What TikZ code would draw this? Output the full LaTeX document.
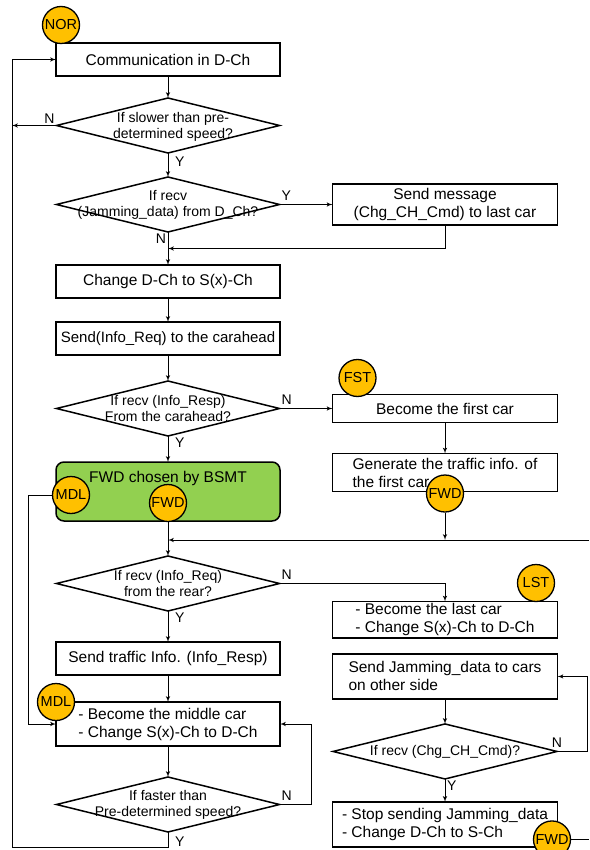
\documentclass[tikz,border=0pt]{standalone}
\usepackage{fontspec}
\setmainfont{Liberation Sans}
\usetikzlibrary{arrows,shapes.geometric,positioning,calc}
\definecolor{tagorange}{HTML}{FFC000}
\definecolor{bsmtgreen}{HTML}{92D050}

\begin{document}
\begin{tikzpicture}[x=1pt,y=1pt,->,>=latex',line width=1pt]
  \tikzstyle{box}=[draw,line width=1.5pt,outer sep=0pt,minimum width=224pt,minimum height=33pt,inner sep=2pt,align=center,font=\fontsize{15.5}{18}\selectfont]
  \tikzstyle{decision}=[draw,diamond,line width=1.5pt,outer sep=0pt,minimum width=223pt,minimum height=55pt,inner sep=0pt]
  \tikzstyle{dtext}=[align=center,inner sep=0pt,font=\fontsize{14}{16}\selectfont]
  \tikzstyle{tag}=[draw,circle,fill=tagorange,line width=1.3pt,minimum size=37pt,inner sep=0pt,font=\fontsize{14.5}{15}\selectfont]
  \tikzstyle{yn}=[inner sep=1.5pt,font=\fontsize{14}{14}\selectfont]

  \useasboundingbox (0,0) rectangle (589,-850);

  \node[box]      (comm)     at (168,-59.5) {Communication in D-Ch};
  \node[decision] (d1)       [below=22pt of comm,label={[dtext,xshift=5pt,yshift=-1pt]center:If slower than pre-\\determined speed?}] {};
  \node[decision] (d2)       [below=24pt of d1,label={[dtext]center:If recv\\(Jamming\_data) from D\_Ch?}] {};
  \node[box]      (change)   [below=33pt of d2] {Change D-Ch to S(x)-Ch};
  \node[box,font=\fontsize{15}{18}\selectfont] (sendreq) [below=24pt of change] {Send(Info\_Req) to the carahead};
  \node[decision] (d3)       [below=26pt of sendreq,label={[dtext]center:If recv (Info\_Resp)\\From the carahead?}] {};
  \node[box,fill=bsmtgreen,rounded corners=8pt,minimum height=59pt] (green) [below=26pt of d3] {};
  \node[inner sep=0pt,font=\fontsize{15.5}{18}\selectfont] (bsmt) [below=9pt of green.north] {FWD chosen by BSMT};
  \node[decision] (d4)       [below=35pt of green,label={[dtext]center:If recv (Info\_Req)\\from the rear?}] {};
  \node[box]      (sendinfo) [below=31pt of d4] {Send traffic Info. (Info\_Resp)};
  \node[box,minimum height=44pt,align=left] (middle) [below=27pt of sendinfo] {- Become the middle car\\- Change S(x)-Ch to D-Ch};
  \node[decision] (d5)       [below=31pt of middle,label={[dtext]center:If faster than\\Pre-determined speed?}] {};

  \node[box,minimum width=225pt,minimum height=41pt] (sendmsg) [right=53pt of d2] {Send message\\(Chg\_CH\_Cmd) to last car};
  \node[box,minimum width=225pt,minimum height=28pt] (first) [right=53pt of d3] {Become the first car};
  \node[box,minimum width=225pt,minimum height=38pt,align=left] (generate) [below=31pt of first] {Generate the traffic info. of\\the first car};
  \node[box,minimum width=225pt,minimum height=36pt,align=left] (last) [below=110pt of generate] {- Become the last car\\- Change S(x)-Ch to D-Ch};
  \node[box,minimum width=225pt,minimum height=45pt,align=left] (sendjam) [below=16pt of last] {Send Jamming\_data to cars\\on other side};
  \node[decision,minimum width=224pt] (d6) [below=25pt of sendjam,label={[dtext]center:If recv (Chg\_CH\_Cmd)?}] {};
  \node[box,minimum width=225pt,minimum height=45pt,align=left] (stop) [below=23pt of d6] {- Stop sending Jamming\_data\\- Change D-Ch to S-Ch};

  \node[tag] (nor)  at ([shift={(5,18)}]comm.north west) {NOR};
  \node[tag] (fst)  at ([shift={(25,16.5)}]first.north west) {FST};
  \node[tag] (mdl1) at ([shift={(15,-3.5)}]green.west) {MDL};
  \node[tag] (fwd1) at ([yshift=-11.5pt]green.center) {FWD};
  \node[tag] (fwd2) at ([yshift=-2pt]generate.south) {FWD};
  \node[tag] (lst)  at ([shift={(-21.5,18.5)}]last.north east) {LST};
  \node[tag] (mdl2) at (middle.north west) {MDL};
  \node[tag] (fwd3) at ([shift={(-5.5,7.5)}]stop.south east) {FWD};

  \coordinate (loopbl) at (12,-847);
  \coordinate (fwdin) at (589,-540);

  \draw (comm) -- (d1);
  \draw (d1.west) -- node[yn,pos=0,anchor=south east]{N} (d1.west -| loopbl);
  \draw (d1) -- node[yn,pos=0,anchor=north west,xshift=5pt,yshift=-2pt]{Y} (d2);
  \draw (d2.east) -- node[yn,pos=0,anchor=south west,yshift=2pt]{Y} (sendmsg.west);
  \draw (sendmsg.south) |- ($(d2.south)!.5!(change.north)$);
  \draw (d2) -- node[yn,pos=0,anchor=north east]{N} (change);
  \draw (change) -- (sendreq);
  \draw (sendreq) -- (d3);
  \draw (d3.east) -- node[yn,pos=0,anchor=south west,yshift=2pt]{N} (first.west);
  \draw (d3) -- node[yn,pos=0,anchor=north west,xshift=5pt]{Y} (green);
  \draw (first) -- (generate);
  \draw (fwd2.south) -- (fwd2.south |- fwdin);
  \draw (fwdin) -- (fwdin -| d4.north);
  \draw (green) -- (d4);
  \draw (mdl1.west) -| ([xshift=-28pt]middle.west) -- (middle.west);
  \draw (d4.east) -| node[yn,pos=0,anchor=south west,yshift=2pt]{N} (last.north);
  \draw (d4) -- node[yn,pos=0,anchor=north west,xshift=5pt]{Y} (sendinfo);
  \draw (sendinfo) -- (middle);
  \draw (middle) -- (d5);
  \draw (d5.east) -| node[yn,pos=0,anchor=south west,yshift=2pt]{N} ([xshift=31pt]middle.east) -- (middle.east);
  \draw (d5.south) |- node[yn,pos=0,anchor=north west,xshift=5pt,yshift=-3pt]{Y} (loopbl) |- (comm.west);
  \draw (sendjam) -- (d6);
  \draw (d6.east) -| node[yn,pos=0,anchor=south,yshift=2pt]{N} ([xshift=29.5pt]sendjam.east) -- (sendjam.east);
  \draw (d6) -- node[yn,pos=0,anchor=north west]{Y} (stop);
  \draw[-] (fwd3.east) -- (fwd3.east -| fwdin);
\end{tikzpicture}
\end{document}
